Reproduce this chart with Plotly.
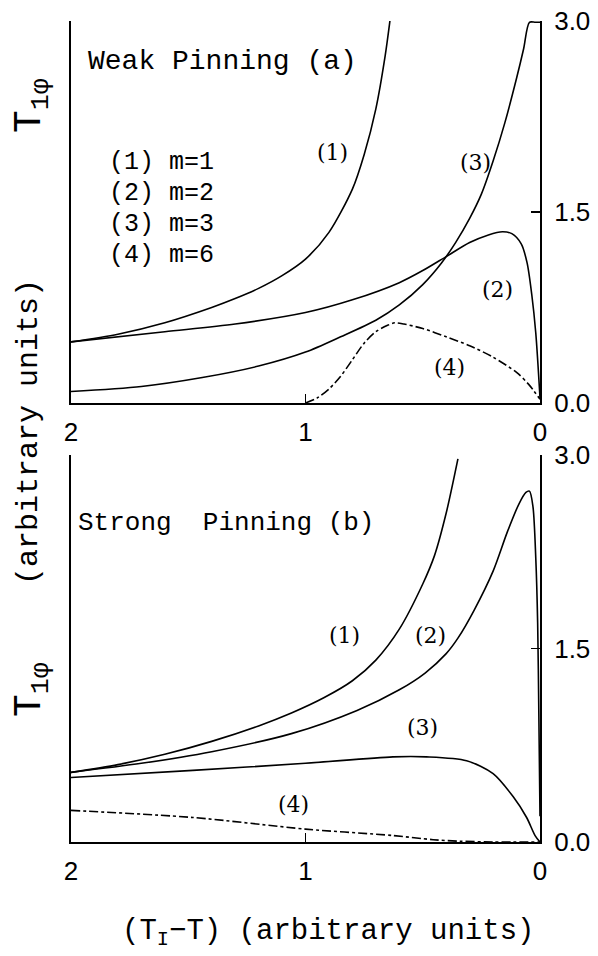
import plotly.graph_objects as go

# ---- Data ----
# Panel (a) Weak pinning
a1_x = [2.0, 1.8, 1.6, 1.4, 1.3, 1.2, 1.1, 1.0, 0.9, 0.8, 0.75, 0.7, 0.66, 0.64, 0.62]
a1_y = [0.48, 0.54, 0.63, 0.75, 0.82, 0.90, 1.00, 1.13, 1.34, 1.68, 1.95, 2.31, 2.73, 3.0, 3.3]

a2_x = [2.0, 1.6, 1.3, 1.0, 0.8, 0.6, 0.5, 0.4, 0.3, 0.22, 0.16, 0.12, 0.08, 0.055, 0.035, 0.018, 0.0]
a2_y = [0.48, 0.56, 0.62, 0.71, 0.81, 0.945, 1.04, 1.15, 1.26, 1.32, 1.345, 1.33, 1.25, 1.10, 0.85, 0.55, 0.04]

a3_x = [2.0, 1.7, 1.44, 1.2, 1.0, 0.85, 0.7, 0.6, 0.5, 0.42, 0.36, 0.3, 0.25, 0.2, 0.15, 0.1, 0.07, 0.045, 0.02, 0.0]
a3_y = [0.09, 0.13, 0.20, 0.29, 0.40, 0.52, 0.65, 0.77, 0.93, 1.10, 1.26, 1.45, 1.64, 1.90, 2.20, 2.55, 2.78, 2.99, 2.99, 2.99]

a4_x = [1.0, 0.95, 0.9, 0.85, 0.8, 0.75, 0.7, 0.65, 0.62, 0.58, 0.5, 0.4, 0.3, 0.2, 0.1, 0.05, 0.0]
a4_y = [0.0, 0.04, 0.11, 0.21, 0.34, 0.47, 0.56, 0.61, 0.63, 0.62, 0.585, 0.52, 0.45, 0.36, 0.24, 0.15, 0.03]

# Panel (b) Strong pinning
b1_x = [2.0, 1.8, 1.6, 1.4, 1.2, 1.06, 0.92, 0.8, 0.7, 0.6, 0.5, 0.45, 0.4, 0.35]
b1_y = [0.54, 0.60, 0.68, 0.78, 0.90, 1.00, 1.12, 1.25, 1.41, 1.65, 2.00, 2.22, 2.55, 2.97]

b2_x = [2.0, 1.7, 1.4, 1.06, 0.78, 0.6, 0.49, 0.4, 0.35, 0.28, 0.2, 0.14, 0.09, 0.06, 0.045, 0.03, 0.018, 0.01, 0.005, 0.0]
b2_y = [0.54, 0.61, 0.70, 0.84, 1.02, 1.18, 1.31, 1.46, 1.58, 1.80, 2.10, 2.40, 2.62, 2.71, 2.72, 2.60, 2.20, 1.70, 1.00, 0.20]

b3_x = [2.0, 1.48, 1.0, 0.627, 0.484, 0.313, 0.2, 0.114, 0.057, 0.021, 0.0]
b3_y = [0.50, 0.555, 0.61, 0.66, 0.66, 0.63, 0.53, 0.35, 0.19, 0.05, 0.0]

b4_x = [2.0, 1.48, 1.0, 0.627, 0.456, 0.34, 0.2, 0.0]
b4_y = [0.245, 0.19, 0.10, 0.05, 0.018, 0.006, 0.0, 0.0]

x_ticks = [2, 1, 0]
x_tick_text = ["2", "1", "0"]
y_ticks = [0, 1.5, 3]
y_tick_text = ["0.0", "1.5", "3.0"]

legend_lines = ["(1) m=1", "(2) m=2", "(3) m=3", "(4) m=6"]

fig = go.Figure()

def add_curve(x, y, xa, ya, dash="solid"):
    fig.add_trace(go.Scatter(
        x=x, y=y, mode="lines", xaxis=xa, yaxis=ya,
        line=dict(color="black", width=1.6, dash=dash, shape="spline", smoothing=0.8),
        showlegend=False, hoverinfo="skip"))

add_curve(a1_x, a1_y, "x", "y")
add_curve(a2_x, a2_y, "x", "y")
add_curve(a3_x, a3_y, "x", "y")
add_curve(a4_x, a4_y, "x", "y", dash="dashdot")
add_curve(b1_x, b1_y, "x2", "y2")
add_curve(b2_x, b2_y, "x2", "y2")
add_curve(b3_x, b3_y, "x2", "y2")
add_curve(b4_x, b4_y, "x2", "y2", dash="dashdot")

W, H = 598, 956
xd = [71 / W, 540 / W]
tick_font = dict(family="Liberation Sans", size=26, color="black")

xcommon = dict(range=[2, 0], tickvals=x_ticks, ticktext=x_tick_text, ticks="inside",
               ticklen=9, tickwidth=1.5, tickcolor="black", showline=True, linewidth=2,
               linecolor="black", showgrid=False, zeroline=False, tickfont=tick_font,
               ticklabelstandoff=5, domain=xd, automargin=False)
ycommon = dict(range=[0, 3], tickvals=y_ticks, ticktext=y_tick_text, ticks="inside",
               ticklen=9, tickwidth=1.5, tickcolor="black", showline=True, linewidth=2,
               linecolor="black", mirror=True, showgrid=False, zeroline=False,
               side="right", tickfont=tick_font, ticklabelstandoff=7, automargin=False)

fig.update_layout(
    width=W, height=H, margin=dict(l=0, r=0, t=0, b=0, autoexpand=False),
    paper_bgcolor="white", plot_bgcolor="white",
    xaxis=dict(**xcommon, anchor="y"),
    yaxis=dict(**ycommon, anchor="x", domain=[(H - 403) / H, (H - 21) / H]),
    xaxis2=dict(**xcommon, anchor="y2"),
    yaxis2=dict(**ycommon, anchor="x2", domain=[(H - 842) / H, (H - 455) / H]),
)

mono = "Liberation Mono"
serif = "DejaVu Serif"
ann = []
def txt(x, y, s, size, xr="x", yr="y", xanchor="center", angle=0, fam=mono):
    ann.append(dict(x=x, y=y, xref=xr, yref=yr, text=s, showarrow=False,
                    xanchor=xanchor, yanchor="middle", textangle=angle,
                    font=dict(family=fam, size=size, color="black")))

txt(1.356, 2.68, "Weak Pinning (a)", 28)
for i, s in enumerate(legend_lines):
    txt(1.846, 1.885 - i * 0.243, s, 25, xanchor="left")
txt(0.883, 1.97, "(1)", 22, fam=serif)
txt(0.277, 1.885, "(3)", 22, fam=serif)
txt(0.183, 0.89, "(2)", 22, fam=serif)
txt(0.384, 0.275, "(4)", 22, fam=serif)

txt(1.339, 2.47, "Strong\u00a0\u00a0Pinning (b)", 26, "x2", "y2")
txt(0.832, 1.60, "(1)", 22, "x2", "y2", fam=serif)
txt(0.469, 1.60, "(2)", 22, "x2", "y2", fam=serif)
txt(0.503, 0.89, "(3)", 22, "x2", "y2", fam=serif)
txt(1.053, 0.287, "(4)", 22, "x2", "y2", fam=serif)

txt(32 / W, (H - 106) / H, "T<sub>1φ</sub>", 38, "paper", "paper", angle=-90)
txt(29 / W, (H - 432) / H, "(arbitrary units)", 30, "paper", "paper", angle=-90)
txt(32 / W, (H - 690) / H, "T<sub>1φ</sub>", 38, "paper", "paper", angle=-90)
txt(328 / W, (H - 933) / H, "(T<sub>I</sub>−T) (arbitrary units)", 29, "paper", "paper")

fig.update_layout(annotations=ann)
fig.write_html("out.html", config={"displayModeBar": False, "staticPlot": True},
               post_script="document.body.style.margin='0px';")
